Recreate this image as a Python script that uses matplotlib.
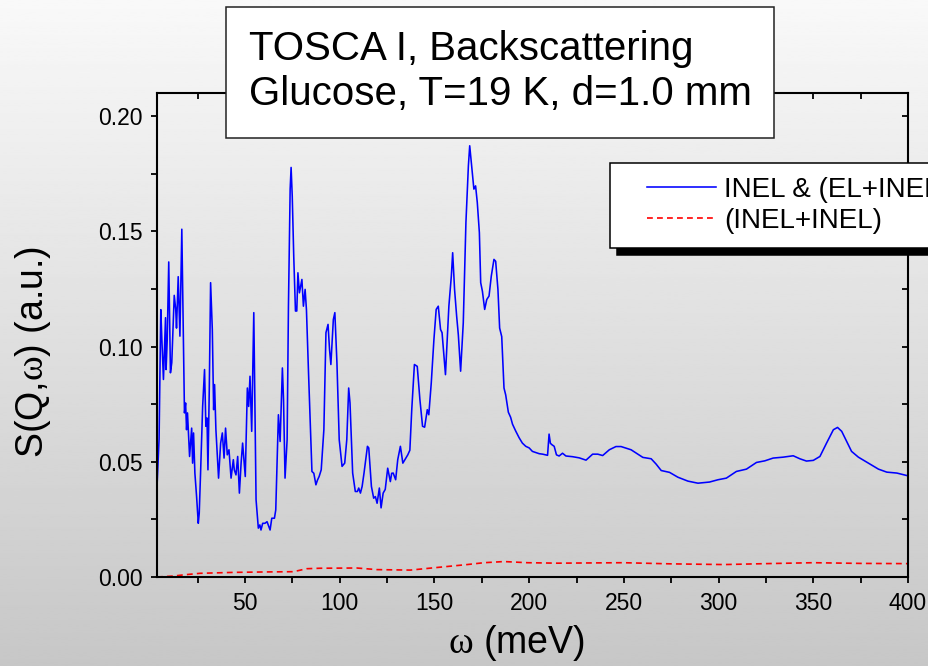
import numpy as np
import matplotlib
matplotlib.use("Agg")
import matplotlib.pyplot as plt
from matplotlib.patches import Rectangle
from matplotlib.legend_handler import HandlerLine2D
from matplotlib.ticker import MultipleLocator

plt.rcParams['font.family'] = ['Liberation Sans', 'DejaVu Sans']
plt.rcParams['mathtext.fontset'] = 'custom'
plt.rcParams['mathtext.rm'] = 'Liberation Serif'

# INEL & (EL+INEL) spectrum, energy transfer in meV
energy = [3.5, 4.6, 5.5, 6.0, 6.9, 8.0, 8.3, 8.9, 9.7, 10.6, 11.3, 12.6, 13.4, 13.8, 14.7,
          15.6, 16.6, 18.0, 18.6, 19.1, 19.6, 20.7, 21.8, 22.3, 22.8, 23.5, 24.4, 25.3, 25.8,
          26.5, 27.6, 28.6, 29.3, 29.9, 30.4, 31.1, 31.8, 32.7, 33.4, 33.9, 34.6, 36.0, 37.1,
          38.0, 38.9, 39.7, 40.6, 41.5, 42.6, 43.8, 44.3, 45.2, 46.1, 47.0, 47.9, 48.7, 50.1,
          51.2, 51.9, 52.6, 53.5, 54.6, 55.8, 57.0, 57.8, 58.4, 59.3, 60.5, 61.6, 63.2, 64.1,
          65.5, 66.2, 67.6, 68.5, 69.7, 70.3, 71.1, 72.2, 72.9, 73.8, 74.3, 74.9, 75.7, 76.6,
          77.3, 77.9, 78.7, 80.0, 80.8, 81.7, 82.4, 83.5, 85.3, 86.3, 87.4, 88.2, 89.1, 90.2,
          91.6, 92.7, 93.8, 94.6, 95.3, 96.6, 97.4, 98.5, 99.7, 101.2, 101.9, 102.6, 103.7,
          104.7, 105.4, 106.8, 108.2, 109.3, 110.0, 110.9, 111.8, 112.8, 114.6, 115.3, 116.7,
          117.9, 118.8, 119.7, 120.9, 121.8, 122.9, 124.0, 125.3, 126.7, 127.4, 128.2, 129.5,
          130.6, 132.0, 133.3, 134.6, 135.9, 137.0, 138.0, 139.4, 140.9, 142.3, 143.7, 144.8,
          146.2, 147.0, 148.3, 149.7, 150.9, 152.0, 153.2, 154.0, 155.8, 157.6, 158.9, 159.6,
          160.6, 161.7, 162.6, 163.8, 165.2, 166.6, 167.9, 168.6, 169.8, 170.8, 171.7, 172.6,
          173.7, 174.4, 175.3, 176.5, 177.6, 178.8, 180.0, 181.4, 182.3, 183.5, 184.4, 185.5,
          186.7, 187.6, 189.0, 190.2, 191.2, 192.9, 194.7, 196.4, 198.2, 200.0, 201.7, 203.5,
          205.3, 207.1, 209.7, 210.5, 211.2, 212.0, 213.2, 214.4, 215.8, 217.6, 219.4, 222.9,
          226.4, 230.0, 233.5, 236.2, 238.8, 242.3, 245.8, 248.5, 253.8, 260.0, 264.4, 267.0,
          269.7, 274.1, 278.5, 283.8, 289.1, 295.2, 299.7, 304.1, 309.4, 314.7, 320.0, 324.4,
          328.8, 334.1, 339.4, 342.9, 346.4, 350.0, 353.5, 357.0, 360.6, 362.8, 365.0, 367.6,
          370.2, 373.8, 379.1, 384.4, 388.8, 394.1, 400.0]
s_total = [0.039, 0.060, 0.116, 0.1045, 0.0857, 0.1125, 0.090, 0.103, 0.1367, 0.0886, 0.093,
           0.1222, 0.116, 0.108, 0.1303, 0.1045, 0.1509, 0.0712, 0.0755, 0.0639, 0.0712,
           0.0523, 0.0646, 0.0494, 0.0625, 0.0451, 0.0349, 0.0233, 0.0277, 0.0451, 0.074,
           0.090, 0.0654, 0.069, 0.0465, 0.0813, 0.1277, 0.1074, 0.0726, 0.0835, 0.0639,
           0.0429, 0.0581, 0.0625, 0.0516, 0.0646, 0.053, 0.0552, 0.0429, 0.0509, 0.0465,
           0.0443, 0.0523, 0.0364, 0.0494, 0.0581, 0.0436, 0.082, 0.074, 0.0871, 0.0632,
           0.1147, 0.0335, 0.0212, 0.0226, 0.0204, 0.0233, 0.0233, 0.0240, 0.0204, 0.0255,
           0.0255, 0.0291, 0.0704, 0.0588, 0.0907, 0.077, 0.0429, 0.0596, 0.1175, 0.1683,
           0.1777, 0.1653, 0.139, 0.1154, 0.1154, 0.132, 0.1233, 0.1291, 0.1175, 0.1248,
           0.116, 0.0886, 0.0458, 0.045, 0.040, 0.042, 0.0436, 0.0465, 0.0639, 0.106, 0.1096,
           0.0986, 0.0922, 0.1117, 0.1147, 0.0929, 0.0596, 0.048, 0.0487, 0.0494, 0.0596,
           0.082, 0.0755, 0.0451, 0.0371, 0.0371, 0.0386, 0.0364, 0.0393, 0.0451, 0.0567,
           0.056, 0.0393, 0.0342, 0.0349, 0.032, 0.0386, 0.030, 0.0364, 0.038, 0.0472, 0.0414,
           0.045, 0.0451, 0.0422, 0.0509, 0.0567, 0.0494, 0.0512, 0.053, 0.055, 0.0726,
           0.0922, 0.0914, 0.077, 0.0654, 0.065, 0.0726, 0.0704, 0.0842, 0.103, 0.1161,
           0.1175, 0.1074, 0.106, 0.0878, 0.1175, 0.1306, 0.1407, 0.1248, 0.1132, 0.105,
           0.0893, 0.1103, 0.1538, 0.1784, 0.1871, 0.177, 0.1683, 0.1697, 0.1625, 0.1494,
           0.1277, 0.124, 0.1161, 0.1204, 0.1219, 0.1306, 0.1378, 0.137, 0.1248, 0.108,
           0.1043, 0.082, 0.079, 0.0715, 0.0693, 0.0663, 0.0633, 0.0604, 0.0581, 0.0567,
           0.0560, 0.0545, 0.0540, 0.0535, 0.0533, 0.0528, 0.0620, 0.0580, 0.0574, 0.0567,
           0.0530, 0.0525, 0.0537, 0.0525, 0.0522, 0.0517, 0.0507, 0.0533, 0.0533, 0.0527,
           0.0552, 0.0566, 0.0566, 0.0552, 0.0519, 0.0513, 0.0490, 0.0462, 0.0454, 0.0433,
           0.0416, 0.0407, 0.0412, 0.0422, 0.0429, 0.0458, 0.0468, 0.0497, 0.0504, 0.0516,
           0.0520, 0.0526, 0.0513, 0.0503, 0.0506, 0.0523, 0.0581, 0.0639, 0.0649, 0.0632,
           0.0588, 0.0545, 0.0520, 0.0494, 0.0468, 0.0455, 0.0451, 0.0439]

# (INEL+INEL) multiple scattering contribution
energy_multi = [3.5, 12.0, 17.3, 26.2, 43.8, 61.5, 75.5, 82.6, 89.7, 109.0, 119.7, 137.3,
                149.7, 167.3, 176.1, 186.7, 199.0, 215.0, 249.6, 275.0, 302.9, 325.0, 350.0,
                375.0, 400.0]
s_multi = [0.0, 0.0004, 0.0009, 0.0016, 0.0020, 0.0022, 0.0023, 0.0036, 0.0038, 0.0039,
           0.0032, 0.0030, 0.0040, 0.0054, 0.0062, 0.0067, 0.0062, 0.0060, 0.0062, 0.0057,
           0.0054, 0.0058, 0.0062, 0.0059, 0.0058]

W, H = 929, 666
fig = plt.figure(figsize=(W / 100, H / 100), dpi=100)

# grey vertical gradient behind everything
bg = fig.add_axes([0, 0, 1, 1], zorder=-5)
shade = np.linspace(0.975, 0.78, 256)[:, None]
bg.imshow(shade, aspect='auto', cmap='gray', vmin=0, vmax=1, extent=(0, 1, 0, 1))
bg.axis('off')

ax = fig.add_axes([157 / W, 89 / H, 751 / W, 484 / H])
ax.set_facecolor('none')

ax.plot(energy, s_total, color='#0000ff', lw=1.15, label='INEL & (EL+INEL)')
ax.plot(energy_multi, s_multi, color='#ff0000', lw=1.2, linestyle=(0, (3.5, 2.5)),
        label='(INEL+INEL)')

ax.set_xlim(3.5, 400)
ax.set_ylim(0, 0.21)
ax.xaxis.set_major_locator(MultipleLocator(50))
ax.xaxis.set_minor_locator(MultipleLocator(25))
ax.yaxis.set_major_locator(MultipleLocator(0.05))
ax.yaxis.set_minor_locator(MultipleLocator(0.025))
ax.yaxis.set_major_formatter(matplotlib.ticker.FormatStrFormatter('%.2f'))

for s in ax.spines.values():
    s.set_linewidth(1.5)
    s.set_color('black')

ax.tick_params(axis='both', which='both', length=4.5, width=1.3, labelsize=16.5, pad=6,
               color='black')
ax.tick_params(axis='x', which='both', top=True, direction='out')
ax.tick_params(axis='y', which='both', right=True, direction='out')
# inner ticks on the top and right frame
for t in ax.xaxis.get_major_ticks() + ax.xaxis.get_minor_ticks():
    t.tick2line.set_marker(matplotlib.lines.TICKDOWN)
for t in ax.yaxis.get_major_ticks() + ax.yaxis.get_minor_ticks():
    t.tick2line.set_marker(matplotlib.lines.TICKLEFT)

ax.set_xlabel(r'$\mathrm{\omega}$ (meV)', fontsize=27)
ax.xaxis.set_label_coords(0.478, -0.095)
ax.set_ylabel(r'S(Q,$\mathrm{\omega}$) (a.u.)', fontsize=27)
ax.yaxis.set_label_coords(-0.1385, 0.465)

leg = ax.legend(loc='upper left', bbox_to_anchor=(610 / W, 1 - 163 / H),
                bbox_transform=fig.transFigure, borderaxespad=0, fontsize=20,
                frameon=True, fancybox=False, framealpha=1, edgecolor='black',
                borderpad=0.5, labelspacing=0.18, handlelength=3.3, handletextpad=0.3,
                handler_map={matplotlib.lines.Line2D: HandlerLine2D(xpad=0.83)},
                shadow={'ox': 5, 'oy': -5.5, 'color': 'black', 'alpha': 1})
leg.get_frame().set_linewidth(1.1)

# boxed heading above the plot
fig.patches.append(Rectangle((226 / W, 1 - 138 / H), 548 / W, 131 / H,
                             transform=fig.transFigure, facecolor='white',
                             edgecolor='#222222', lw=1.1, zorder=4))
fig.text(249 / W, 1 - 60 / H, 'TOSCA I, Backscattering', fontsize=29,
         va='baseline', ha='left', zorder=5)
fig.text(249 / W, 1 - 105 / H, 'Glucose, T=19 K, d=1.0 mm', fontsize=29,
         va='baseline', ha='left', zorder=5)

fig.savefig('out.png', dpi=100)
